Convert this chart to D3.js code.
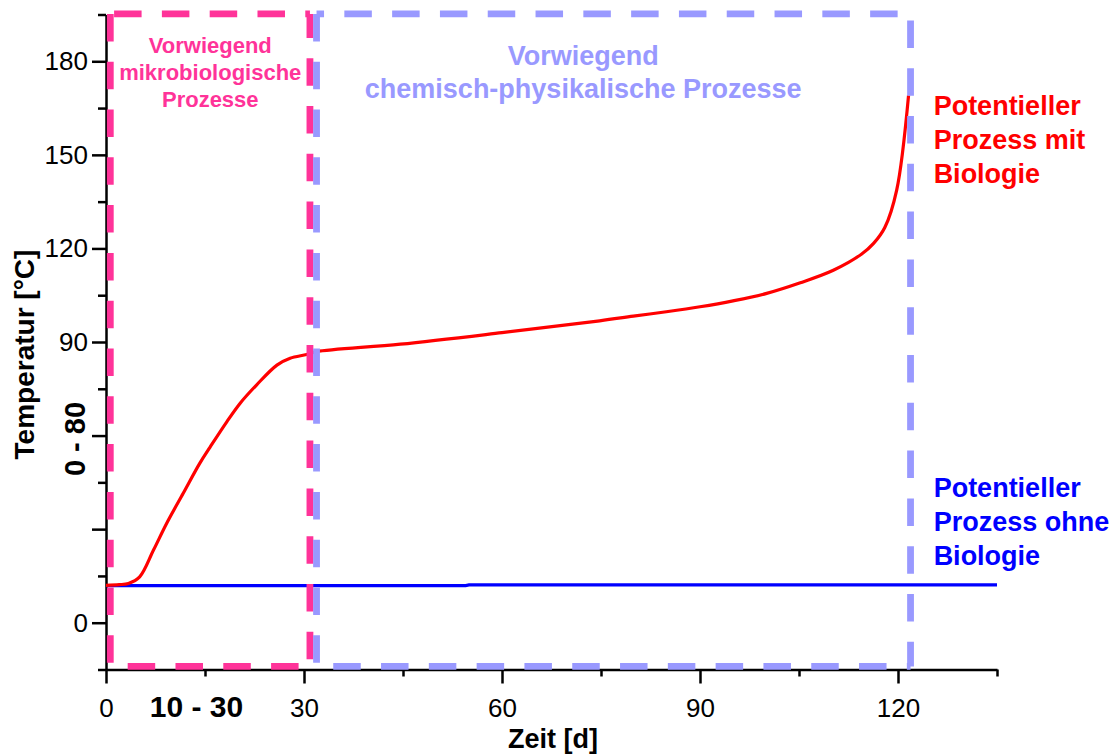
<!DOCTYPE html>
<html>
<head>
<meta charset="utf-8">
<script src="https://cdn.jsdelivr.net/npm/d3@7"></script>
<style>
  body { margin: 0; background: #fff; }
  text { font-family: "Liberation Sans", Arial, sans-serif; }
</style>
</head>
<body>
<div id="chart"></div>
<script>
// data
var bioDays = [0, 2, 3.4, 5.1, 7.2, 9.2, 11.7, 14.2, 15.8, 18.3, 20.3, 22.8, 25.9, 27.9, 30.4, 31.9, 44.6, 60, 74.8, 79.9, 84.9, 90, 95, 100.1, 105.2, 110.2, 114.5, 116.3, 118, 119.8, 121.6];
var bioTemp = [12.0, 12.2, 12.6, 14.7, 23.3, 31.9, 41.5, 51.1, 56.4, 64.4, 70.3, 76.2, 82.6, 84.8, 86.0, 86.9, 89.3, 93.0, 96.8, 98.3, 99.7, 101.3, 103.2, 105.6, 109.0, 113.0, 118.2, 121.6, 126.7, 138.7, 169.1];

var noBioDays = [0, 54.5, 55, 135];
var noBioTemp = [11.9, 11.9, 12.1, 12.1];

var xMajorTicks = [0, 30, 60, 90, 120];
var xMinorTicks = [15, 45, 75, 105, 135];
var xTickLabels = ["0", "30", "60", "90", "120"];
var yMajorTicks = [0, 30, 60, 90, 120, 150, 180];
var yMinorTicks = [-15, 15, 45, 75, 105, 135, 165, 195];
var yLabelled = [0, 90, 120, 150, 180];

// phase boxes (days) and their temperature span
var phaseNames = ["mikro", "chem"];
var phaseStart = [0.65, 31.9];
var phaseEnd = [30.9, 121.9];
var phaseTemp = [-14, 195.2];
var phaseLabels = [["Vorwiegend", "mikrobiologische", "Prozesse"], ["Vorwiegend", "chemisch-physikalische Prozesse"]];

var bioLabel = ["Potentieller", "Prozess mit", "Biologie"];
var noBioLabel = ["Potentieller", "Prozess ohne", "Biologie"];

var svgWidth = 1119;
var svgHeight = 755;

var margin = { top: 14.5, right: 122, bottom: 85.5, left: 106 };
var width = svgWidth - margin.left - margin.right;
var height = svgHeight - margin.top - margin.bottom;

var pink = "#ff3399";
var lilac = "#9999ff";

var svg = d3.select("#chart")
  .append("svg")
  .attr("width", svgWidth)
  .attr("height", svgHeight);

var chartGroup = svg.append("g")
  .attr("transform", `translate(${margin.left}, ${margin.top})`);

var x = d3.scaleLinear().domain([0, 135]).range([0, width]);
var y = d3.scaleLinear().domain([-15, 195]).range([height, 0]);

// axes
var xAxis = d3.axisBottom(x)
  .tickValues(xMajorTicks.concat(xMinorTicks))
  .tickSize(14)
  .tickSizeOuter(0)
  .tickFormat(d => {
    var i = xMajorTicks.indexOf(d);
    return i >= 0 ? xTickLabels[i] : "";
  });

var xg = chartGroup.append("g")
  .attr("transform", `translate(0, ${height})`)
  .call(xAxis);

xg.selectAll(".tick line")
  .attr("y2", d => xMajorTicks.indexOf(d) >= 0 ? 14 : 7);
xg.selectAll(".tick text")
  .attr("y", 47)
  .attr("dy", 0)
  .attr("font-size", 26)
  .attr("fill", "#000");

var yAxis = d3.axisLeft(y)
  .tickValues(yMajorTicks.concat(yMinorTicks))
  .tickSize(14)
  .tickSizeOuter(0)
  .tickFormat(d => yLabelled.indexOf(d) >= 0 ? d : "");

var yg = chartGroup.append("g").call(yAxis);

yg.selectAll(".tick line")
  .attr("x2", d => yMajorTicks.indexOf(d) >= 0 ? -14 : -8);
yg.selectAll(".tick text")
  .attr("x", -18)
  .attr("font-size", 26)
  .attr("fill", "#000");

chartGroup.selectAll(".domain, .tick line")
  .attr("stroke", "#000")
  .attr("stroke-width", 2.5);

// curves
var flatLine = d3.line()
  .x(d => x(d[0]))
  .y(d => y(d[1]));

var smoothLine = d3.line()
  .x(d => x(d[0]))
  .y(d => y(d[1]))
  .curve(d3.curveCatmullRom.alpha(0.5));

chartGroup.append("path")
  .datum(noBioDays.map((d, i) => [d, noBioTemp[i]]))
  .attr("d", flatLine)
  .attr("fill", "none")
  .attr("stroke", "#0000ff")
  .attr("stroke-width", 3.2);

chartGroup.append("path")
  .datum(bioDays.map((d, i) => [d, bioTemp[i]]))
  .attr("d", smoothLine)
  .attr("fill", "none")
  .attr("stroke", "#ff0000")
  .attr("stroke-width", 3.2)
  .attr("stroke-linejoin", "round");

// dashed phase boxes, one side at a time
function side(x1, y1, x2, y2, color, offset) {
  chartGroup.append("line")
    .attr("x1", x1).attr("y1", y1)
    .attr("x2", x2).attr("y2", y2)
    .attr("stroke", color)
    .attr("stroke-width", 6.8)
    .attr("stroke-dasharray", "27.5 20.3")
    .attr("stroke-dashoffset", offset);
}

var boxColors = [pink, lilac];
var dashOffsets = [[0, 44, 3.5, 30.4], [0, 20, 41.3, 31.1]];

phaseNames.forEach(function(p, i) {
  var x0 = x(phaseStart[i]), x1 = x(phaseEnd[i]);
  var yt = y(phaseTemp[1]), yb = y(phaseTemp[0]);
  var o = dashOffsets[i];
  side(x0, yt, x0, yb, boxColors[i], o[0]);
  side(x0, yt, x1, yt, boxColors[i], o[1]);
  side(x1, yt, x1, yb, boxColors[i], o[2]);
  side(x0, yb, x1, yb, boxColors[i], o[3]);
});

// phase labels
chartGroup.append("text")
  .attr("x", x(15.8))
  .attr("y", 52.7 - margin.top)
  .attr("text-anchor", "middle")
  .attr("font-size", 22)
  .attr("font-weight", "bold")
  .attr("fill", pink)
  .selectAll("tspan")
  .data(phaseLabels[0])
  .enter()
  .append("tspan")
  .attr("x", x(15.8))
  .attr("dy", (d, i) => i === 0 ? 0 : 27.3)
  .text(d => d);

chartGroup.append("text")
  .attr("x", x(72.3))
  .attr("y", 65 - margin.top)
  .attr("text-anchor", "middle")
  .attr("font-size", 27)
  .attr("font-weight", "bold")
  .attr("fill", lilac)
  .selectAll("tspan")
  .data(phaseLabels[1])
  .enter()
  .append("tspan")
  .attr("x", x(72.3))
  .attr("dy", (d, i) => i === 0 ? 0 : 33)
  .text(d => d);

// series labels
function seriesLabel(lines, color, day, temp) {
  chartGroup.append("text")
    .attr("y", y(temp))
    .attr("font-size", 27)
    .attr("font-weight", "bold")
    .attr("fill", color)
    .selectAll("tspan")
    .data(lines)
    .enter()
    .append("tspan")
    .attr("x", x(day))
    .attr("dy", (d, i) => i === 0 ? 0 : 34)
    .text(d => d);
}
seriesLabel(bioLabel, "#ff0000", 125.4, 162.7);
seriesLabel(noBioLabel, "#0000ff", 125.4, 40.4);

// axis titles and range notes
svg.append("text")
  .attr("transform", "translate(34, 354.5) rotate(-90)")
  .attr("text-anchor", "middle")
  .attr("font-size", 28)
  .attr("font-weight", "bold")
  .text("Temperatur [°C]");

svg.append("text")
  .attr("transform", "translate(85, 439) rotate(-90)")
  .attr("text-anchor", "middle")
  .attr("font-size", 29)
  .attr("font-weight", "bold")
  .text("0 - 80");

svg.append("text")
  .attr("x", 553)
  .attr("y", 748)
  .attr("text-anchor", "middle")
  .attr("font-size", 27)
  .attr("font-weight", "bold")
  .text("Zeit [d]");

svg.append("text")
  .attr("x", 196.5)
  .attr("y", 717)
  .attr("text-anchor", "middle")
  .attr("font-size", 30)
  .attr("font-weight", "bold")
  .text("10 - 30");
</script>
</body>
</html>
